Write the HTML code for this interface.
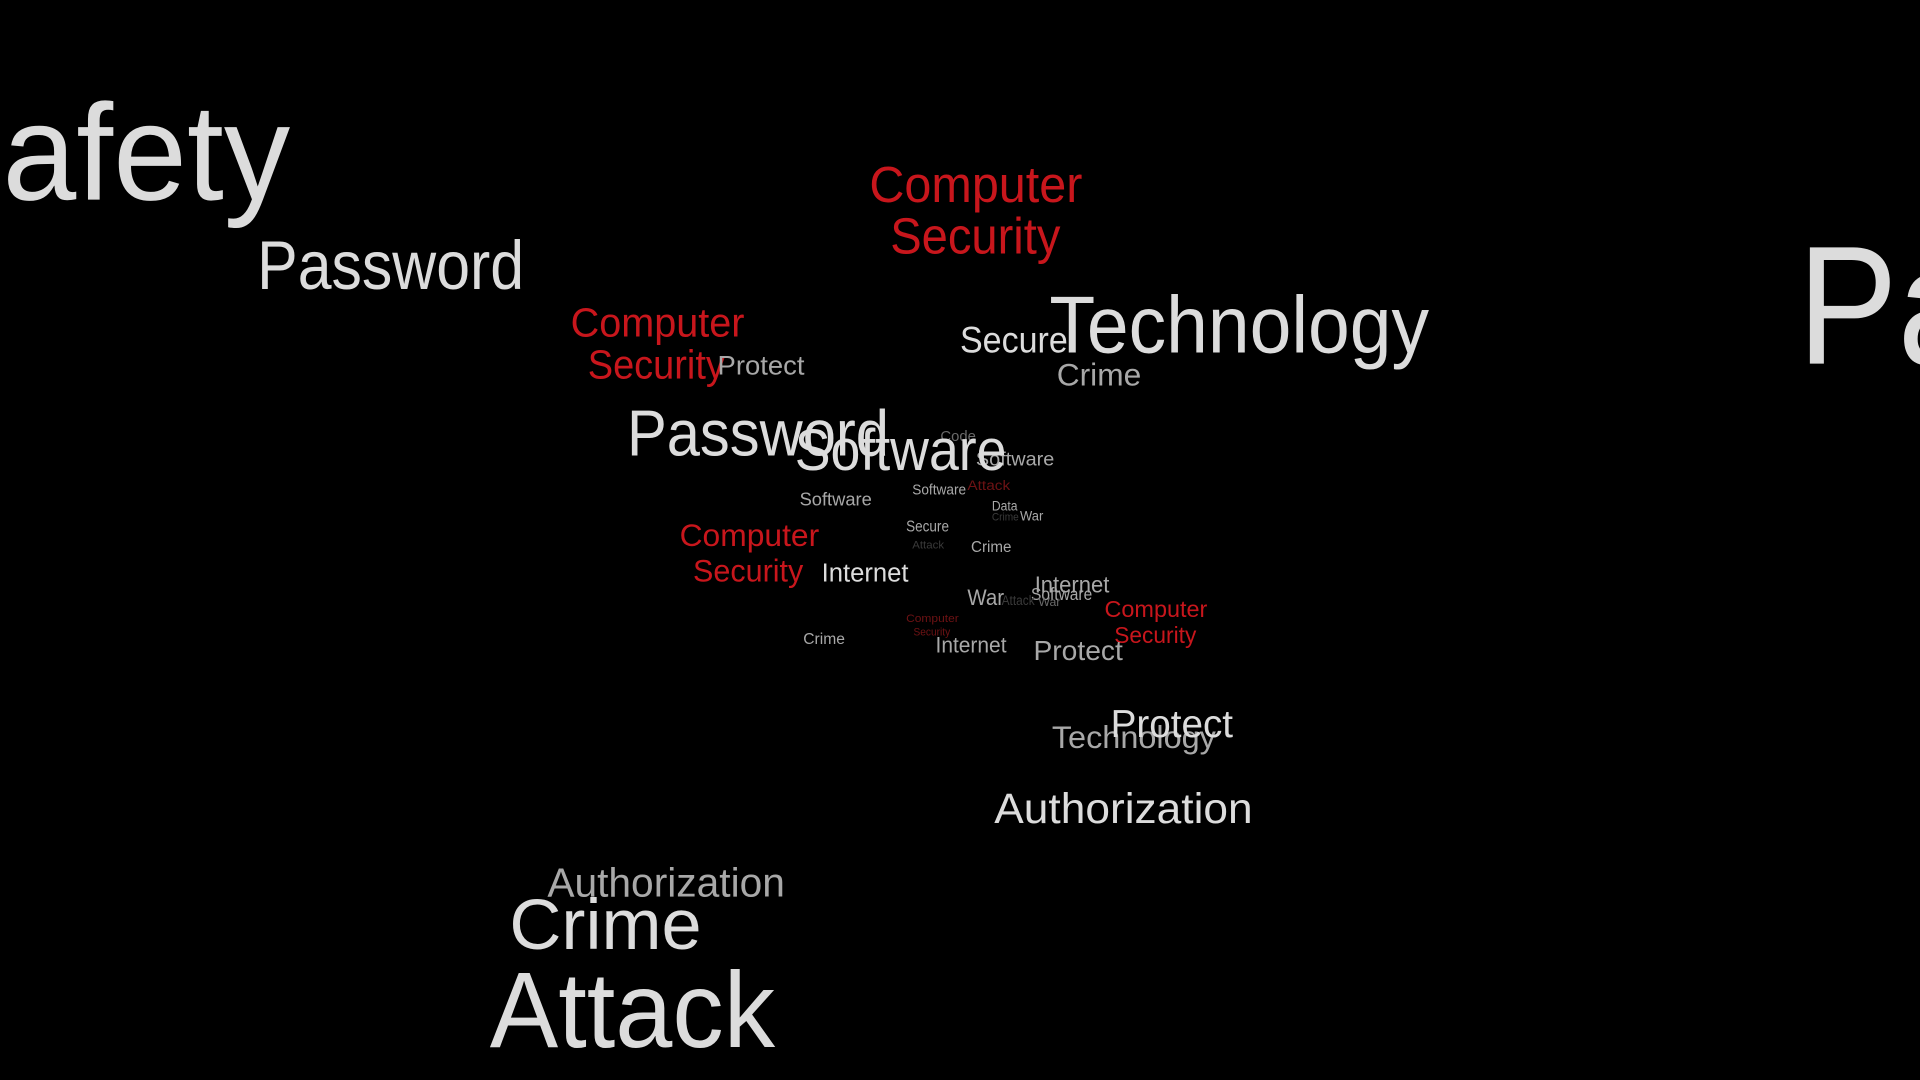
<!DOCTYPE html>
<html><head><meta charset="utf-8"><style>
html,body{margin:0;padding:0;background:#000;width:1920px;height:1080px;overflow:hidden}
svg{display:block}
text{font-family:"Liberation Sans",sans-serif}
.w{fill:#dcdcdc}.g{fill:#a8a8a8}.d{fill:#6a6a6a}.r{fill:#c8161c}.dr{fill:#6e1214}.x{fill:#3a3a3a}
</style></head><body>
<svg width="1920" height="1080" viewBox="0 0 1568 882" xmlns="http://www.w3.org/2000/svg">
<rect width="1568" height="882" fill="#000"/>
<g lengthAdjust="spacingAndGlyphs">
<text class="w" x="2" y="163" font-size="112" textLength="235" lengthAdjust="spacingAndGlyphs">afety</text>
<text class="w" x="210" y="236" font-size="56" textLength="218" lengthAdjust="spacingAndGlyphs">Password</text>
<text class="r" x="710" y="165" font-size="42" textLength="174" lengthAdjust="spacingAndGlyphs">Computer</text>
<text class="r" x="727" y="207" font-size="42" textLength="139" lengthAdjust="spacingAndGlyphs">Security</text>
<text class="w" x="857" y="288" font-size="66" textLength="310" lengthAdjust="spacingAndGlyphs">Technology</text>
<text class="w" x="1468" y="297" font-size="138" textLength="150" lengthAdjust="spacingAndGlyphs">Pa</text>
<text class="w" x="784" y="288" font-size="30" textLength="88" lengthAdjust="spacingAndGlyphs">Secure</text>
<text class="g" x="863" y="315" font-size="26" textLength="69" lengthAdjust="spacingAndGlyphs">Crime</text>
<text class="r" x="466" y="275" font-size="33" textLength="142" lengthAdjust="spacingAndGlyphs">Computer</text>
<text class="r" x="480" y="309" font-size="33" textLength="112" lengthAdjust="spacingAndGlyphs">Security</text>
<text class="g" x="586" y="306" font-size="22" textLength="71" lengthAdjust="spacingAndGlyphs">Protect</text>
<text class="w" x="512" y="372" font-size="53" textLength="214" lengthAdjust="spacingAndGlyphs">Password</text>
<text class="d" x="768" y="360" font-size="12" textLength="29" lengthAdjust="spacingAndGlyphs">Code</text>
<text class="g" x="797" y="380" font-size="16" textLength="64" lengthAdjust="spacingAndGlyphs">Software</text>
<text class="w" x="649" y="384" font-size="48" textLength="173" lengthAdjust="spacingAndGlyphs">Software</text>
<text class="dr" x="790" y="400" font-size="11" textLength="35" lengthAdjust="spacingAndGlyphs">Attack</text>
<text class="g" x="653" y="413" font-size="15" textLength="59" lengthAdjust="spacingAndGlyphs">Software</text>
<text class="g" x="745" y="404" font-size="12" textLength="44" lengthAdjust="spacingAndGlyphs">Software</text>
<text class="g" x="810" y="417" font-size="11" textLength="21" lengthAdjust="spacingAndGlyphs">Data</text>
<text class="g" x="833" y="425" font-size="11" textLength="19" lengthAdjust="spacingAndGlyphs">War</text>
<text class="x" x="810" y="425" font-size="9" textLength="22" lengthAdjust="spacingAndGlyphs">Crime</text>
<text class="g" x="740" y="434" font-size="13" textLength="35" lengthAdjust="spacingAndGlyphs">Secure</text>
<text class="x" x="745" y="448" font-size="9" textLength="26" lengthAdjust="spacingAndGlyphs">Attack</text>
<text class="g" x="793" y="451" font-size="13" textLength="33" lengthAdjust="spacingAndGlyphs">Crime</text>
<text class="r" x="555" y="446" font-size="26" textLength="114" lengthAdjust="spacingAndGlyphs">Computer</text>
<text class="r" x="566" y="475" font-size="26" textLength="90" lengthAdjust="spacingAndGlyphs">Security</text>
<text class="w" x="671" y="475" font-size="21" textLength="71" lengthAdjust="spacingAndGlyphs">Internet</text>
<text class="g" x="845" y="484" font-size="19" textLength="61" lengthAdjust="spacingAndGlyphs">Internet</text>
<text class="g" x="842" y="490" font-size="14" textLength="50" lengthAdjust="spacingAndGlyphs">Software</text>
<text class="g" x="790" y="494" font-size="18" textLength="30" lengthAdjust="spacingAndGlyphs">War</text>
<text class="x" x="818" y="494" font-size="11" textLength="27" lengthAdjust="spacingAndGlyphs">Attack</text>
<text class="d" x="848" y="495" font-size="10" textLength="18" lengthAdjust="spacingAndGlyphs">War</text>
<text class="r" x="902" y="504" font-size="19" textLength="84" lengthAdjust="spacingAndGlyphs">Computer</text>
<text class="r" x="910" y="525" font-size="19" textLength="67" lengthAdjust="spacingAndGlyphs">Security</text>
<text class="g" x="656" y="526" font-size="13" textLength="34" lengthAdjust="spacingAndGlyphs">Crime</text>
<text class="dr" x="740" y="508" font-size="9" textLength="43" lengthAdjust="spacingAndGlyphs">Computer</text>
<text class="dr" x="746" y="519" font-size="9" textLength="30" lengthAdjust="spacingAndGlyphs">Security</text>
<text class="g" x="764" y="533" font-size="18" textLength="58" lengthAdjust="spacingAndGlyphs">Internet</text>
<text class="g" x="844" y="539" font-size="23" textLength="73" lengthAdjust="spacingAndGlyphs">Protect</text>
<text class="g" x="859" y="611" font-size="26" textLength="134" lengthAdjust="spacingAndGlyphs">Technology</text>
<text class="w" x="907" y="602" font-size="32" textLength="100" lengthAdjust="spacingAndGlyphs">Protect</text>
<text class="w" x="812" y="672" font-size="35" textLength="211" lengthAdjust="spacingAndGlyphs">Authorization</text>
<text class="g" x="447" y="732" font-size="33" textLength="194" lengthAdjust="spacingAndGlyphs">Authorization</text>
<text class="w" x="416" y="775" font-size="58" textLength="157" lengthAdjust="spacingAndGlyphs">Crime</text>
<text class="w" x="400" y="855" font-size="88" textLength="233" lengthAdjust="spacingAndGlyphs">Attack</text>
</g>
</svg>
</body></html>
